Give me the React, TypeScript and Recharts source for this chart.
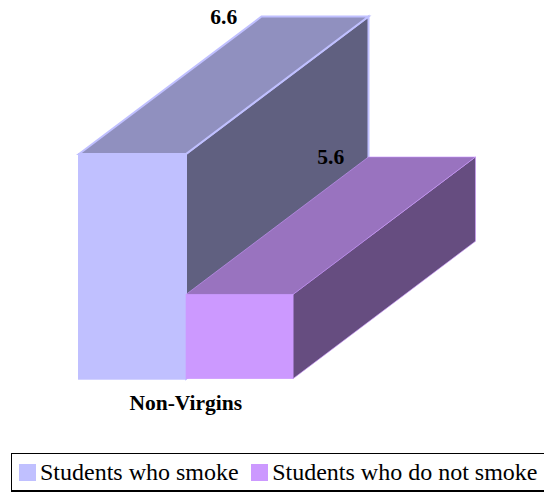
import { BarChart, Bar, XAxis, YAxis, Legend, LabelList } from 'recharts';

const categories = ['Non-Virgins'];
const smokerValues = [6.6];
const nonSmokerValues = [5.6];
const seriesNames = ['Students who smoke', 'Students who do not smoke'];

const data = categories.map((name, i) => ({
    name,
    smoke: smokerValues[i],
    noSmoke: nonSmokerValues[i],
}));

const SERIF = '"Liberation Serif", "Times New Roman", serif';

// Depth of the extruded bars, in pixels
const DEPTH_X = 182.5;
const DEPTH_Y = -137.5;

// Extruded box: side and top faces get darker shades of the front colour
const Box3D = ({ x, y, width, height, fill, topFill, sideFill, strokeWidth }: any) => {
    const r = x + width;
    const b = y + height;
    const edge = { stroke: fill, strokeWidth };
    return (
        <g>
            <polygon
                points={`${r},${y} ${r + DEPTH_X},${y + DEPTH_Y} ${r + DEPTH_X},${b + DEPTH_Y} ${r},${b}`}
                fill={sideFill}
                {...edge}
            />
            <polygon
                points={`${x},${y} ${x + DEPTH_X},${y + DEPTH_Y} ${r + DEPTH_X},${y + DEPTH_Y} ${r},${y}`}
                fill={topFill}
                {...edge}
            />
            <rect x={x} y={y} width={width} height={height} fill={fill} {...edge} />
        </g>
    );
};

// Value sits at the back of the box, not above the front face
const DepthLabel = ({ x, y, width, value }: any) => (
    <text
        x={x + width / 2 + DEPTH_X / 2}
        y={y + DEPTH_Y + 7}
        textAnchor="middle"
        fontFamily={SERIF}
        fontWeight="bold"
        fontSize={21.5}
        fill="#000"
    >
        {value}
    </text>
);

const LegendBox = ({ payload }: any) => (
    <div
        style={{
            boxSizing: 'border-box',
            width: 545,
            height: 39,
            border: '1px solid #000',
            borderBottom: '2px solid #000',
            display: 'flex',
            alignItems: 'center',
            paddingLeft: 6.5,
            fontFamily: SERIF,
            fontSize: 24,
            color: '#000',
            whiteSpace: 'nowrap',
        }}
    >
        {(payload || []).map((item: any) => (
            <span key={item.value} style={{ display: 'flex', alignItems: 'center', marginRight: 12 }}>
                <span style={{ width: 17, height: 17, background: item.color, marginRight: 4.5 }} />
                {item.value}
            </span>
        ))}
    </div>
);

export default function App() {
    return (
        <div style={{ position: 'absolute', left: 0, top: 0, width: 544, height: 493, overflow: 'hidden' }}>
            <BarChart
                width={544}
                height={493}
                data={data}
                margin={{ top: 154, right: 251.5, bottom: 35.3, left: 79 }}
                barGap={0}
                barCategoryGap={0}
            >
                <XAxis
                    dataKey="name"
                    axisLine={false}
                    tickLine={false}
                    height={40}
                    tickMargin={10}
                    tick={{ fontFamily: SERIF, fontWeight: 'bold', fontSize: 21.5, fill: '#000' }}
                />
                <YAxis hide domain={[5, 6.6]} />
                <Legend
                    content={<LegendBox />}
                    itemSorter={null}
                    wrapperStyle={{ left: 11, top: 453, width: 545, bottom: 'auto' }}
                />
                <Bar
                    dataKey="smoke"
                    name={seriesNames[0]}
                    fill="#C0C0FF"
                    isAnimationActive={false}
                    shape={(p: any) => <Box3D {...p} topFill="#9090BF" sideFill="#606080" strokeWidth={2} />}
                >
                    <LabelList dataKey="smoke" content={<DepthLabel />} />
                </Bar>
                <Bar
                    dataKey="noSmoke"
                    name={seriesNames[1]}
                    fill="#CC99FF"
                    isAnimationActive={false}
                    shape={(p: any) => <Box3D {...p} topFill="#9973BF" sideFill="#664D80" strokeWidth={0.6} />}
                >
                    <LabelList dataKey="noSmoke" content={<DepthLabel />} />
                </Bar>
            </BarChart>
        </div>
    );
}
